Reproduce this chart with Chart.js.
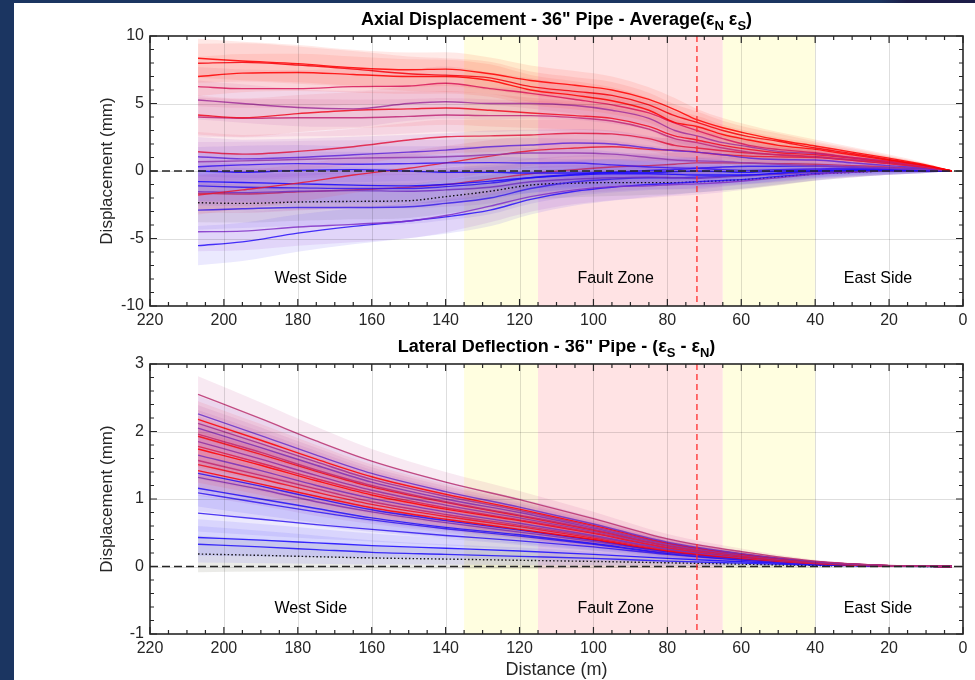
<!DOCTYPE html>
<html>
<head>
<meta charset="utf-8">
<script src="https://cdn.jsdelivr.net/npm/chart.js@4.4.1/dist/chart.umd.min.js"></script>
<style>
  html, body { margin: 0; padding: 0; background: #fff; }
  body { width: 975px; height: 680px; position: relative; overflow: hidden; }
  #navyL { position: absolute; left: 0; top: 0; width: 14px; height: 680px; background: #1b3561; }
  #navyT { position: absolute; left: 0; top: 0; width: 975px; height: 3px;
           background: linear-gradient(90deg, #1b3561 0%, #1b3561 90%, #1c1d48 93%, #1c1d48 100%); }
  canvas { position: absolute; left: 0; }
  #axial { top: 0; }
  #lateral { top: 340px; }
</style>
</head>
<body>
<div id="navyL"></div>
<div id="navyT"></div>
<canvas id="axial" width="975" height="340"></canvas>
<canvas id="lateral" width="975" height="340"></canvas>
<script>
// ---- axial displacement (mm) vs distance (m) ----
const axialDist = [207, 195, 180, 165, 150, 140, 128, 117, 105, 95, 85, 78, 72, 65, 58, 50, 40, 30, 20, 10, 3];

const ax01 = [8.35, 8.15, 7.95, 7.65, 7.5, 7.55, 7.2, 6.7, 6.35, 6.0, 5.3, 4.55, 3.8, 3.2, 2.75, 2.3, 1.85, 1.4, 0.95, 0.45, 0];
const ax02 = [7.98, 8.05, 7.85, 7.55, 7.2, 7.1, 6.9, 6.25, 5.9, 5.6, 4.9, 4.1, 3.6, 3.0, 2.55, 2.2, 1.7, 1.3, 0.85, 0.4, 0];
const ax03 = [7.0, 7.25, 7.3, 7.15, 7.0, 7.0, 6.7, 6.0, 5.6, 5.2, 4.5, 3.6, 3.3, 2.7, 2.3, 1.9, 1.6, 1.2, 0.8, 0.38, 0];
const ax04 = [6.25, 6.1, 6.1, 6.25, 6.3, 6.5, 6.1, 5.75, 5.3, 4.9, 4.3, 3.55, 3.0, 2.4, 1.9, 1.6, 1.35, 1.0, 0.7, 0.33, 0];
const ax05 = [5.26, 5.0, 4.7, 4.6, 5.0, 5.13, 5.0, 5.0, 4.85, 4.5, 3.9, 3.0, 2.6, 2.1, 1.8, 1.45, 1.3, 1.0, 0.7, 0.32, 0];
const ax06 = [4.15, 3.95, 4.25, 4.5, 4.6, 4.67, 4.5, 4.3, 4.1, 3.9, 3.3, 2.6, 2.3, 1.9, 1.6, 1.35, 1.2, 0.95, 0.65, 0.3, 0];
const ax07 = [4.0, 3.9, 3.95, 3.95, 4.05, 4.15, 4.1, 4.1, 3.95, 3.7, 3.1, 2.4, 2.1, 1.7, 1.4, 1.2, 1.06, 0.85, 0.6, 0.28, 0];
const ax08 = [1.43, 1.25, 1.45, 1.8, 2.3, 2.54, 2.6, 2.67, 2.8, 2.75, 2.4, 1.9, 1.7, 1.5, 1.33, 1.2, 1.06, 0.8, 0.55, 0.25, 0];
const ax09 = [1.06, 0.9, 1.0, 1.2, 1.4, 1.55, 1.8, 1.93, 2.07, 2.0, 1.7, 1.5, 1.4, 1.2, 0.96, 0.85, 0.81, 0.6, 0.4, 0.2, 0];
const ax10 = [0.69, 0.75, 0.85, 0.95, 1.0, 1.06, 1.2, 1.33, 1.33, 1.25, 1.0, 0.81, 0.75, 0.7, 0.59, 0.5, 0.37, 0.3, 0.2, 0.1, 0];
const ax11 = [0.32, 0.45, 0.55, 0.5, 0.55, 0.6, 0.62, 0.59, 0.59, 0.45, 0.3, 0.22, 0.2, 0.1, 0.05, 0.1, 0.15, 0.2, 0.15, 0.08, 0];
const ax12 = [0.0, -0.1, 0.05, 0.1, 0.0, -0.1, -0.1, -0.15, -0.15, -0.1, -0.1, -0.05, 0.0, -0.05, -0.1, 0.0, 0.05, 0.1, 0.1, 0.05, 0];
const ax13 = [-1.78, -1.4, -0.9, -0.3, 0.2, 0.6, 1.1, 1.5, 1.7, 1.8, 1.6, 1.55, 1.4, 1.2, 1.1, 1.05, 1.0, 0.8, 0.55, 0.25, 0];
const ax14 = [-0.79, -0.85, -0.95, -1.05, -1.1, -1.0, -0.75, -0.5, -0.3, -0.2, -0.2, -0.25, -0.3, -0.3, -0.3, -0.15, 0.0, 0.05, 0.05, 0.02, 0];
const ax15 = [-1.1, -1.2, -1.25, -1.3, -1.3, -1.16, -0.9, -0.5, -0.25, -0.1, 0.05, 0.1, 0.2, 0.3, 0.35, 0.35, 0.37, 0.3, 0.2, 0.1, 0];
const ax16 = [-1.53, -1.6, -1.5, -1.45, -1.5, -1.4, -1.2, -0.8, -0.6, -0.5, -0.45, -0.5, -0.55, -0.45, -0.35, -0.25, -0.1, -0.05, 0, 0, 0];
const ax17 = [-1.65, -1.7, -1.55, -1.4, -1.2, -1.0, -0.6, -0.2, 0.1, 0.3, 0.4, 0.5, 0.6, 0.6, 0.59, 0.55, 0.5, 0.4, 0.3, 0.15, 0];
const ax18 = [-2.9, -2.8, -2.7, -2.7, -2.65, -2.4, -2.0, -1.3, -0.8, -0.6, -0.5, -0.5, -0.45, -0.4, -0.3, -0.2, -0.05, 0, 0, 0, 0];
const ax19 = [-4.5, -4.45, -4.15, -3.95, -3.7, -3.3, -2.6, -1.9, -1.4, -1.16, -1.1, -1.0, -0.95, -0.85, -0.7, -0.5, -0.25, -0.1, 0, 0, 0];
const ax20 = [-5.53, -5.25, -4.6, -4.1, -3.7, -3.4, -2.9, -2.1, -1.5, -1.2, -1.0, -0.9, -0.8, -0.7, -0.6, -0.4, -0.2, -0.05, 0, 0, 0];
const axMean = [-2.35, -2.4, -2.3, -2.25, -2.2, -1.9, -1.5, -1.04, -0.9, -0.86, -0.86, -0.86, -0.8, -0.72, -0.62, -0.45, -0.22, -0.1, 0, 0, 0];
// half width of the shaded band round each axial run
const axialSpread = [1.45, 1.42, 1.38, 1.33, 1.28, 1.25, 1.2, 1.12, 1.05, 1.0, 0.9, 0.85, 0.8, 0.72, 0.65, 0.58, 0.48, 0.38, 0.27, 0.14, 0.02];

// ---- lateral deflection (mm) vs distance (m) ----
const latDist = [207, 190, 175, 160, 140, 120, 100, 80, 60, 40, 20, 3];

const lt01 = [2.55, 2.19, 1.86, 1.56, 1.25, 0.99, 0.71, 0.41, 0.22, 0.08, 0.015, 0];
const lt02 = [2.26, 1.94, 1.65, 1.38, 1.11, 0.88, 0.63, 0.36, 0.19, 0.07, 0.013, 0];
const lt03 = [2.18, 1.87, 1.59, 1.33, 1.07, 0.85, 0.61, 0.35, 0.185, 0.07, 0.013, 0];
const lt04 = [2.12, 1.82, 1.55, 1.29, 1.04, 0.83, 0.59, 0.34, 0.18, 0.068, 0.012, 0];
const lt05 = [2.05, 1.76, 1.50, 1.25, 1.00, 0.80, 0.57, 0.33, 0.174, 0.066, 0.012, 0];
const lt06 = [1.96, 1.69, 1.43, 1.20, 0.96, 0.76, 0.55, 0.31, 0.167, 0.063, 0.012, 0];
const lt07 = [1.93, 1.66, 1.41, 1.18, 0.95, 0.75, 0.54, 0.31, 0.164, 0.062, 0.012, 0];
const lt08 = [1.85, 1.59, 1.35, 1.13, 0.91, 0.72, 0.52, 0.30, 0.157, 0.059, 0.011, 0];
const lt09 = [1.78, 1.53, 1.30, 1.09, 0.87, 0.69, 0.50, 0.28, 0.151, 0.057, 0.011, 0];
const lt10 = [1.74, 1.50, 1.27, 1.06, 0.85, 0.68, 0.49, 0.28, 0.148, 0.056, 0.010, 0];
const lt11 = [1.65, 1.42, 1.20, 1.01, 0.81, 0.64, 0.46, 0.26, 0.14, 0.053, 0.010, 0];
const lt12 = [1.57, 1.35, 1.15, 0.96, 0.77, 0.61, 0.44, 0.25, 0.133, 0.05, 0.009, 0];
const lt13 = [1.51, 1.30, 1.10, 0.92, 0.74, 0.59, 0.42, 0.24, 0.128, 0.048, 0.009, 0];
const lt14 = [1.42, 1.22, 1.04, 0.87, 0.70, 0.55, 0.40, 0.23, 0.121, 0.045, 0.009, 0];
const lt15 = [1.38, 1.19, 1.01, 0.84, 0.68, 0.54, 0.39, 0.22, 0.117, 0.044, 0.008, 0];
const lt16 = [1.32, 1.14, 0.96, 0.81, 0.65, 0.51, 0.37, 0.21, 0.112, 0.042, 0.008, 0];
const lt17 = [1.16, 1.00, 0.86, 0.72, 0.58, 0.47, 0.34, 0.20, 0.105, 0.04, 0.008, 0];
const lt18 = [1.09, 0.94, 0.81, 0.69, 0.56, 0.45, 0.33, 0.19, 0.10, 0.038, 0.007, 0];
const lt19 = [0.79, 0.70, 0.62, 0.55, 0.46, 0.38, 0.29, 0.18, 0.095, 0.036, 0.007, 0];
const lt20 = [0.43, 0.39, 0.35, 0.31, 0.27, 0.23, 0.18, 0.12, 0.07, 0.03, 0.006, 0];
const lt21 = [0.33, 0.29, 0.25, 0.21, 0.18, 0.15, 0.12, 0.08, 0.05, 0.02, 0.004, 0];
const ltMean = [0.185, 0.165, 0.145, 0.127, 0.11, 0.092, 0.075, 0.055, 0.035, 0.015, 0.003, 0];
const latSpread = [0.27, 0.24, 0.21, 0.18, 0.15, 0.13, 0.10, 0.07, 0.045, 0.02, 0.005, 0];

// zone edges along the pipe (m) and the fault trace
const transitionWest = [135, 115];
const faultZone = [115, 65];
const transitionEast = [65, 40];
const faultTrace = 72;
const regionNames = ['West Side', 'Fault Zone', 'East Side'];
const regionAt = [176.5, 94, 23];

// line colours, same order as the runs
const axialRuns = [ax01, ax02, ax03, ax04, ax05, ax06, ax07, ax08, ax09, ax10, ax11, ax12, ax13, ax14, ax15, ax16, ax17, ax18, ax19, ax20, axMean];
const axialTones = ['#ff0000', '#f5000a', '#ff0000', '#d8185a', '#a0309a', '#f00a20', '#c02878', '#e01840', '#6028d8', '#9038b0',
  '#3a18f0', '#1a08ff', '#e81830', '#1808ff', '#3014f0', '#7030c0', '#c02860', '#3a20e8', '#8030c8', '#2810f8', 'mean'];
const latRuns = [lt01, lt02, lt03, lt04, lt05, lt06, lt07, lt08, lt09, lt10, lt11, lt12, lt13, lt14, lt15, lt16, lt17, lt18, lt19, lt20, lt21, ltMean];
const latTones = ['#b83070', '#6a30c8', '#ff0000', '#a03090', '#8030b0', '#c02870', '#f00a14', '#9030a0', '#d82050', '#ff0000', '#7830b8',
  '#c02870', '#f01020', '#ff0000', '#2810f0', '#8030b0', '#2010f8', '#3018f0', '#3018f0', '#1a08ff', '#2010f8', 'mean'];

const FONT = "'Liberation Sans', Arial, Helvetica, sans-serif";

function rgb(hex) {
  return [parseInt(hex.slice(1, 3), 16), parseInt(hex.slice(3, 5), 16), parseInt(hex.slice(5, 7), 16)];
}

function buildDatasets(dist, runs, tones, spread) {
  let lines = [], bands = [];
  runs.forEach((run, i) => {
    let tone = tones[i];
    let lineColor, bandColor, dash = [];
    if (tone === 'mean') {
      lineColor = 'rgba(0,0,0,0.9)';
      bandColor = 'rgba(110,110,90,0.14)';
      dash = [1.5, 2.2];
    } else {
      let c = rgb(tone);
      lineColor = `rgba(${c[0]},${c[1]},${c[2]},0.85)`;
      bandColor = `rgba(${Math.round(c[0] * 0.75 + 60)},70,${Math.round(c[2] * 0.75 + 60)},0.12)`;
    }
    lines.push({
      data: run.map((v, j) => ({ x: dist[j], y: v })),
      borderColor: lineColor, borderWidth: 1.4, borderDash: dash,
      pointRadius: 0, fill: false, order: 0, cubicInterpolationMode: 'monotone'
    });
    bands.push({
      data: run.map((v, j) => ({ x: dist[j], y: v + spread[j] })),
      borderWidth: 0, borderColor: 'transparent', backgroundColor: bandColor,
      pointRadius: 0, fill: '+1', order: 1, cubicInterpolationMode: 'monotone'
    });
    bands.push({
      data: run.map((v, j) => ({ x: dist[j], y: v - spread[j] })),
      borderWidth: 0, borderColor: 'transparent',
      pointRadius: 0, fill: false, order: 1, cubicInterpolationMode: 'monotone'
    });
  });
  return lines.concat(bands);
}

function drawTitle(ctx, segs, cx, base) {
  let w = 0;
  segs.forEach(s => {
    ctx.font = s.sub ? `bold 13px ${FONT}` : `bold 18px ${FONT}`;
    s.w = ctx.measureText(s.t).width;
    w += s.w;
  });
  let x = cx - w / 2;
  ctx.fillStyle = '#000';
  ctx.textAlign = 'left';
  ctx.textBaseline = 'alphabetic';
  segs.forEach(s => {
    ctx.font = s.sub ? `bold 13px ${FONT}` : `bold 18px ${FONT}`;
    ctx.fillText(s.t, x, s.sub ? base + 5 : base);
    x += s.w;
  });
}

const framePlugin = {
  id: 'frame',
  beforeDatasetsDraw(chart, args, o) {
    const { ctx, chartArea: a, scales: { x } } = chart;
    ctx.save();
    [[transitionWest, '#fffee0'], [faultZone, '#ffe3e4'], [transitionEast, '#fffee0']].forEach(([z, col]) => {
      let x1 = x.getPixelForValue(z[0]), x2 = x.getPixelForValue(z[1]);
      ctx.fillStyle = col;
      ctx.fillRect(x1, a.top, x2 - x1, a.bottom - a.top);
    });
    ctx.restore();
  },
  afterDatasetsDraw(chart, args, o) {
    const { ctx, chartArea: a, scales: { x, y } } = chart;
    ctx.save();
    // grid on top, like the original
    ctx.strokeStyle = 'rgba(0,0,0,0.13)';
    ctx.lineWidth = 1;
    for (let v = 20; v < 220; v += 20) {
      let px = Math.round(x.getPixelForValue(v)) + 0.5;
      ctx.beginPath(); ctx.moveTo(px, a.top); ctx.lineTo(px, a.bottom); ctx.stroke();
    }
    for (let v = o.yMin + o.yMajor; v < o.yMax - 1e-9; v += o.yMajor) {
      let py = Math.round(y.getPixelForValue(v)) + 0.5;
      ctx.beginPath(); ctx.moveTo(a.left, py); ctx.lineTo(a.right, py); ctx.stroke();
    }
    // zero line
    ctx.strokeStyle = '#262626';
    ctx.lineWidth = 1.6;
    ctx.setLineDash([8, 4]);
    let zy = y.getPixelForValue(0);
    ctx.beginPath(); ctx.moveTo(a.left, zy); ctx.lineTo(a.right, zy); ctx.stroke();
    // fault trace
    ctx.strokeStyle = 'rgba(255,40,40,0.85)';
    ctx.lineWidth = 1.5;
    ctx.setLineDash([6, 4]);
    let fx = x.getPixelForValue(faultTrace);
    ctx.beginPath(); ctx.moveTo(fx, a.top); ctx.lineTo(fx, a.bottom); ctx.stroke();
    ctx.setLineDash([]);
    // region names
    ctx.fillStyle = '#000';
    ctx.font = `16px ${FONT}`;
    ctx.textAlign = 'center';
    ctx.textBaseline = 'middle';
    regionNames.forEach((n, i) => ctx.fillText(n, x.getPixelForValue(regionAt[i]), y.getPixelForValue(o.labelLevel)));
    // box and inward ticks
    ctx.strokeStyle = '#262626';
    ctx.lineWidth = 1.6;
    ctx.strokeRect(a.left, a.top, a.right - a.left, a.bottom - a.top);
    ctx.lineWidth = 1.2;
    for (let v = 0; v <= 220; v += 5) {
      let px = x.getPixelForValue(v), len = v % 20 === 0 ? 7 : 4;
      ctx.beginPath();
      ctx.moveTo(px, a.bottom); ctx.lineTo(px, a.bottom - len);
      ctx.moveTo(px, a.top); ctx.lineTo(px, a.top + len);
      ctx.stroke();
    }
    let n = Math.round((o.yMax - o.yMin) / o.yMinor);
    for (let k = 0; k <= n; k++) {
      let v = o.yMin + k * o.yMinor;
      let major = Math.abs(v / o.yMajor - Math.round(v / o.yMajor)) < 1e-6;
      let py = y.getPixelForValue(v), len = major ? 7 : 4;
      ctx.beginPath();
      ctx.moveTo(a.left, py); ctx.lineTo(a.left + len, py);
      ctx.moveTo(a.right, py); ctx.lineTo(a.right - len, py);
      ctx.stroke();
    }
    ctx.restore();
  },
  afterDraw(chart, args, o) {
    const { ctx, chartArea: a } = chart;
    ctx.save();
    drawTitle(ctx, o.title, (a.left + a.right) / 2, o.titleBase);
    ctx.fillStyle = '#262626';
    ctx.font = `17px ${FONT}`;
    ctx.textAlign = 'center';
    ctx.textBaseline = 'middle';
    ctx.translate(107, (a.top + a.bottom) / 2);
    ctx.rotate(-Math.PI / 2);
    ctx.fillText('Displacement (mm)', 0, 0);
    ctx.restore();
    if (o.xTitle) {
      ctx.save();
      ctx.fillStyle = '#262626';
      ctx.font = `18px ${FONT}`;
      ctx.textAlign = 'center';
      ctx.textBaseline = 'middle';
      ctx.fillText(o.xTitle, (a.left + a.right) / 2, o.xTitleY);
      ctx.restore();
    }
  }
};

function makeChart(id, dist, runs, tones, spread, d) {
  return new Chart(document.getElementById(id), {
    type: 'line',
    data: { datasets: buildDatasets(dist, runs, tones, spread) },
    options: {
      responsive: false,
      animation: false,
      devicePixelRatio: 1,
      layout: { padding: { top: d.top, right: 12, left: 0, bottom: 0 } },
      scales: {
        x: {
          type: 'linear', min: 0, max: 220, reverse: true,
          ticks: { stepSize: 20, color: '#262626', font: { family: FONT, size: 16 }, padding: 5, maxRotation: 0 },
          grid: { display: false, drawTicks: false },
          border: { display: false },
          afterFit(s) { s.height = d.xh; }
        },
        y: {
          min: d.yMin, max: d.yMax,
          ticks: { stepSize: d.yMajor, color: '#262626', font: { family: FONT, size: 16 }, padding: 6 },
          grid: { display: false, drawTicks: false },
          border: { display: false },
          afterFit(s) { s.width = 150; }
        }
      },
      plugins: {
        legend: { display: false },
        tooltip: { enabled: false },
        frame: d
      }
    },
    plugins: [framePlugin]
  });
}

makeChart('axial', axialDist, axialRuns, axialTones, axialSpread, {
  top: 36, xh: 34, yMin: -10, yMax: 10, yMajor: 5, yMinor: 1, labelLevel: -8.0,
  titleBase: 25,
  title: [{ t: 'Axial Displacement - 36" Pipe - Average(ε' }, { t: 'N', sub: true }, { t: ' ε' }, { t: 'S', sub: true }, { t: ')' }]
});

makeChart('lateral', latDist, latRuns, latTones, latSpread, {
  top: 24, xh: 46, yMin: -1, yMax: 3, yMajor: 1, yMinor: 0.2, labelLevel: -0.62,
  titleBase: 12,
  title: [{ t: 'Lateral Deflection - 36" Pipe - (ε' }, { t: 'S', sub: true }, { t: ' - ε' }, { t: 'N', sub: true }, { t: ')' }],
  xTitle: 'Distance (m)', xTitleY: 330
});
</script>
</body>
</html>
